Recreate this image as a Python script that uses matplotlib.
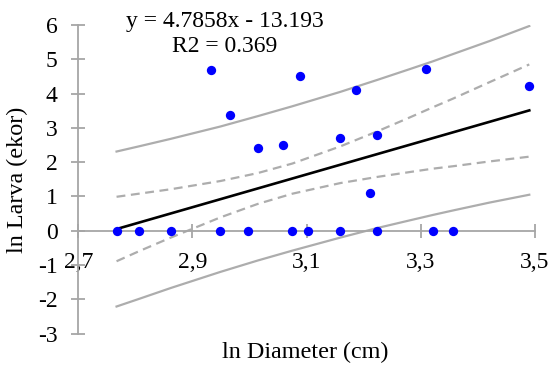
import numpy as np
import matplotlib
matplotlib.use("Agg")
import matplotlib.pyplot as plt

# data (ln diameter, ln larva)
x_vals = [2.767, 2.806, 2.862, 2.949, 2.998, 3.075, 3.103, 3.159, 3.224, 3.321, 3.356,
          2.932, 2.966, 3.014, 3.059, 3.089, 3.186, 3.158, 3.224, 3.211, 3.309, 3.490]
y_vals = [0, 0, 0, 0, 0, 0, 0, 0, 0, 0, 0,
          4.69, 3.38, 2.40, 2.49, 4.52, 4.10, 2.71, 2.78, 1.11, 4.72, 4.22]
slope = 4.7858
intercept = -13.193
r2_label = 0.369

# band curves
band_x = [2.767, 2.806, 2.862, 2.949, 3.014, 3.075, 3.159, 3.224, 3.280, 3.321, 3.356, 3.420, 3.490]
pi_upper = [2.31, 2.46, 2.68, 3.04, 3.34, 3.63, 4.05, 4.40, 4.71, 4.94, 5.15, 5.53, 5.97]
ci_upper = [0.99, 1.08, 1.21, 1.45, 1.68, 1.96, 2.46, 2.90, 3.30, 3.60, 3.85, 4.33, 4.85]
ci_lower = [-0.89, -0.60, -0.20, 0.39, 0.78, 1.08, 1.39, 1.57, 1.71, 1.81, 1.88, 2.02, 2.16]
pi_lower = [-2.21, -1.99, -1.67, -1.20, -0.87, -0.58, -0.20, 0.08, 0.30, 0.46, 0.59, 0.82, 1.05]

x_ticks = [2.7, 2.9, 3.1, 3.3, 3.5]
x_ticklabels = ["2,7", "2,9", "3,1", "3,3", "3,5"]
y_ticks = [-3, -2, -1, 0, 1, 2, 3, 4, 5, 6]

plt.rcParams['font.family'] = ['Liberation Serif', 'DejaVu Serif']
plt.rcParams['axes.unicode_minus'] = False

x = np.array(x_vals)
y = np.array(y_vals)
line_x = np.array([min(x_vals), max(x_vals)])
line_y = slope * line_x + intercept

fig = plt.figure(figsize=(5.51, 3.65), dpi=100)
W, H = 551, 365
x0, x1 = 78.3, 535
y0, y1 = 25, 333.6
ax = fig.add_axes([x0 / W, 1 - y1 / H, (x1 - x0) / W, (y1 - y0) / H])
ax.set_xlim(2.7, 3.5)
ax.set_ylim(-3, 6)

gray = '#A6A6A6'
band_gray = '#ADADAD'
ax.plot(band_x, pi_upper, color=band_gray, lw=1.6, zorder=2)
ax.plot(band_x, pi_lower, color=band_gray, lw=1.6, zorder=2)
ax.plot(band_x, ci_upper, color=band_gray, lw=1.6, ls=(0, (4, 2.5)), zorder=2)
ax.plot(band_x, ci_lower, color=band_gray, lw=1.6, ls=(0, (4, 2.5)), zorder=2)
ax.plot(line_x, line_y, color='black', lw=1.9, zorder=3)
ax.scatter(x, y, s=45, color='#0000FF', zorder=4, linewidths=0)

for sp in ['top', 'right']:
    ax.spines[sp].set_visible(False)
ax.spines['bottom'].set_position(('data', 0))
ax.spines['left'].set_position(('data', 2.7))
for sp in ['bottom', 'left']:
    ax.spines[sp].set_color(gray)
    ax.spines[sp].set_linewidth(1.3)
ax.set_xticks(x_ticks)
ax.set_xticklabels(x_ticklabels)
ax.set_yticks(y_ticks)
ax.set_yticklabels([str(v) for v in y_ticks])
ax.tick_params(axis='both', direction='inout', length=10, width=1.3, color=gray,
               labelsize=17, labelcolor='black')
ax.tick_params(axis='x', pad=10)
ax.tick_params(axis='y', pad=10)
ax.patch.set_visible(False)

fig.text(225 / W, 1 - 21 / H, "y = 4.7858x - 13.193", ha='center', va='center', fontsize=17)
fig.text(225 / W, 1 - 47 / H, "R2 = %.3f" % r2_label, ha='center', va='center', fontsize=17)
fig.text(305 / W, 1 - 352 / H, "ln Diameter (cm)", ha='center', va='center', fontsize=17.4)
fig.text(17 / W, 1 - 180 / H, "ln Larva (ekor)", ha='center', va='center', fontsize=17.4, rotation=90)

fig.savefig("out.png", dpi=100)
